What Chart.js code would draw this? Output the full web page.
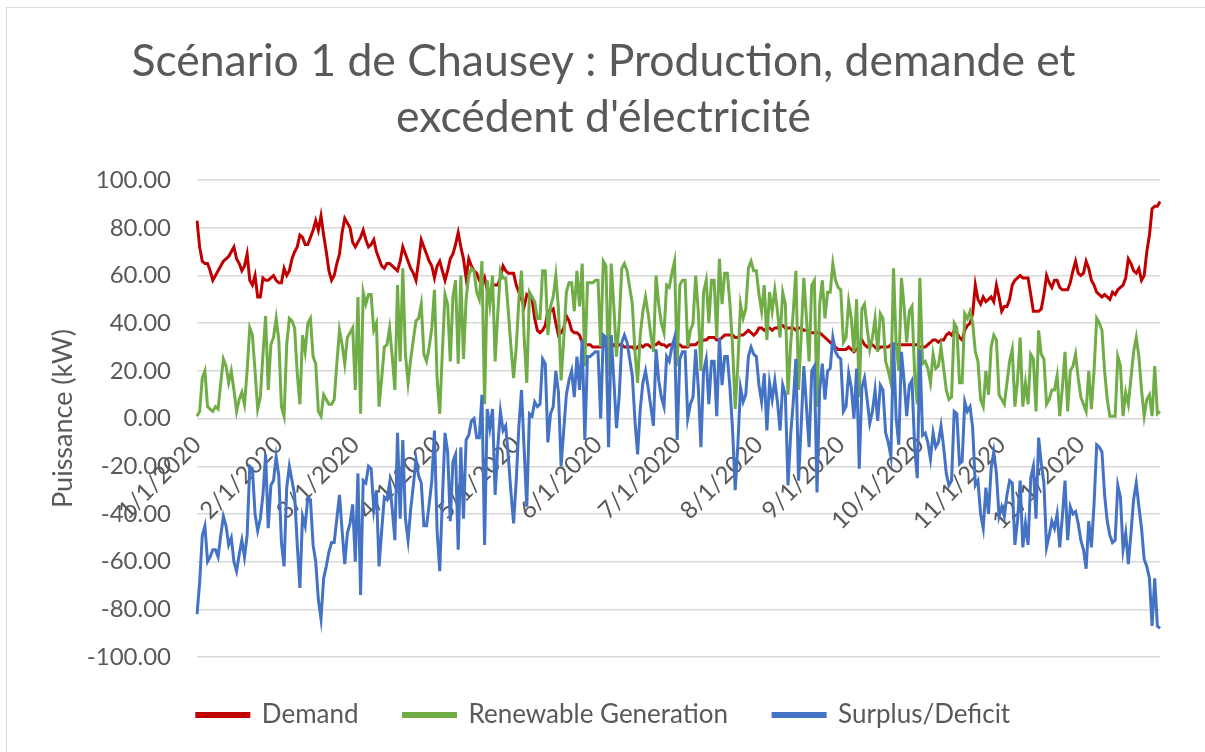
<!DOCTYPE html>
<html>
<head>
<meta charset="utf-8">
<title>Scénario 1 de Chausey</title>
<script src="https://cdn.jsdelivr.net/npm/chart.js@4.4.1/dist/chart.umd.min.js"></script>
<style>
  html, body { margin: 0; padding: 0; background: #fff; }
  #wrap { position: relative; width: 1205px; height: 752px; overflow: hidden; }
  #frame { position: absolute; left: 6px; top: 7px; width: 1300px; height: 900px; border: 1px solid #d9d9d9; box-sizing: border-box; pointer-events: none; }
  canvas { position: absolute; left: 0; top: 0; }
</style>
</head>
<body>
<div id="wrap">
  <canvas id="chart" width="1205" height="752"></canvas>
  <div id="frame"></div>
</div>
<script>
// Données journalières 2020 (kW)
const monthTicks = ['1/1/2020', '2/1/2020', '3/1/2020', '4/1/2020', '5/1/2020', '6/1/2020',
  '7/1/2020', '8/1/2020', '9/1/2020', '10/1/2020', '11/1/2020', '12/1/2020'];

const demand = [
  // jan
  83,72,66,65,65,62,58,60,62,64, 66,67,68,70,72,67,65,62,64,69, 58,56,60,51,51,59,58,58,59,60, 58,
  // fév
  57,57,63,60,62,67,70,72,77,76, 73,73,76,79,83,79,85,77,70,62, 58,60,65,69,78,84,82,80,74,
  // mar
  72,74,76,79,75,72,73,75,70,67, 64,63,65,65,64,63,62,66,72,69, 66,63,61,58,66,75,72,69,66,64, 59,
  // avr
  64,66,62,58,62,67,69,73,78,72, 67,59,67,64,62,61,58,56,59,54, 52,56,56,56,59,64,62,61,61,61,
  // mai
  56,53,50,47,52,51,50,42,37,36, 37,39,45,45,46,40,35,36,38,43, 41,37,36,36,35,32,31,31,31,30, 30,
  // juin
  30,30,31,30,30,30,31,30,31,31, 30,30,30,30,29,30,31,30,31,31, 30,31,31,32,31,31,30,31,31,32,
  // juil
  31,31,30,30,30,31,31,31,32,32, 33,33,34,34,34,33,33,34,35,35, 35,35,34,34,35,35,36,37,36,35, 36,
  // août
  38,38,37,38,38,37,38,38,39,39, 38,38,38,38,37,38,38,37,37,36, 36,36,36,36,35,34,33,32,31,30, 29,
  // sep
  29,29,29,30,29,28,29,30,33,31, 30,31,31,30,29,30,30,30,30,31, 31,31,31,31,31,31,31,31,31,31,
  // oct
  30,30,30,31,32,33,33,32,33,33, 35,36,35,37,36,34,33,37,39,40, 44,56,50,48,51,49,50,51,49,56, 51,
  // nov
  45,47,47,50,56,58,59,60,59,59, 59,52,45,45,45,46,52,60,57,55, 58,58,55,54,54,54,57,62,66,61,
  // déc
  60,61,66,63,58,56,53,52,51,52, 51,50,53,52,54,55,56,59,67,65, 62,61,63,58,60,70,77,88,89,89, 91
];

const generation = [
  1,3,17,20,5,4,3,5,4,15, 25,22,15,20,12,3,8,11,6,20, 38,35,20,4,9,27,43,12,31,34, 42,
  33,5,1,31,42,41,38,19,6,35, 28,40,42,26,23,3,1,10,8,6, 6,8,23,37,31,23,34,36,38,
  12,51,2,53,48,52,52,37,40,5, 17,30,31,38,26,12,56,24,63,27, 15,25,33,41,42,48,27,24,30,38, 54,
  17,2,28,52,48,24,51,58,23,60, 25,50,60,63,62,53,50,66,6,58, 48,60,24,44,62,59,59,45,30,17,
  30,50,62,34,15,53,51,49,42,42, 62,62,35,47,51,60,46,16,33,53, 57,57,45,62,47,65,22,57,57,57, 58,
  58,30,66,64,18,65,47,26,40,63, 65,62,55,48,28,15,35,45,51,44, 35,28,60,48,40,36,56,55,61,66,
  22,56,58,58,30,37,40,60,45,20, 53,58,40,58,58,34,67,48,61,61, 48,30,4,23,48,42,46,63,66,62, 62,
  52,45,56,33,53,45,54,45,34,53, 48,10,31,45,62,12,35,59,42,24, 56,58,5,48,58,42,53,53,65,58, 55,
  54,32,34,49,42,28,50,9,46,48, 38,29,34,42,28,44,42,24,20,15, 63,31,20,59,47,32,45,47,19,6,
  59,23,24,21,15,27,21,22,30,21, 12,8,9,40,38,15,15,44,42,45, 40,28,24,8,5,20,10,30,35,33, 10,
  8,6,15,24,29,5,16,34,5,15, 6,27,25,3,37,27,25,6,8,12, 12,18,1,13,28,3,20,22,27,17,
  9,6,3,20,4,20,42,40,37,20, 8,1,1,1,26,22,1,11,6,17, 28,34,26,12,1,8,10,1,22,2, 3
];

const surplus = [
  -82,-69,-49,-45,-60,-58,-55,-55,-58,-49, -41,-45,-53,-50,-60,-64,-57,-51,-58,-49, -20,-21,-40,-47,-42,-32,-15,-46,-28,-26, -16,
  -24,-52,-62,-29,-20,-26,-32,-53,-71,-41, -45,-33,-34,-53,-60,-76,-84,-67,-62,-56, -52,-52,-42,-32,-47,-61,-48,-44,-36,
  -60,-23,-74,-26,-27,-20,-21,-38,-30,-62, -47,-33,-34,-27,-38,-51,-6,-42,-9,-42, -51,-38,-28,-17,-24,-27,-45,-45,-36,-26, -5,
  -47,-64,-34,-6,-14,-43,-18,-15,-55,-12, -42,-9,-7,-1,0,-8,-8,10,-53,4, -4,4,-32,-12,3,-5,-3,-16,-31,-44,
  -26,-3,12,-13,-37,2,1,7,5,6, 25,23,-10,2,5,20,11,-20,-5,10, 16,20,9,26,12,33,-9,26,26,27, 28,
  28,0,35,34,-12,35,16,-4,9,32, 35,32,25,18,-1,-15,4,15,20,13, 5,-3,29,16,9,5,26,24,30,34,
  -9,25,28,28,0,6,9,29,13,-12, 20,25,6,24,24,1,34,14,26,26, 13,-5,-30,-11,13,7,10,26,30,27, 26,
  14,7,19,-5,15,8,16,7,-5,14, 10,-28,-7,7,25,-26,-3,22,5,-12, 20,22,-31,12,23,8,20,21,34,28, 26,
  25,3,5,19,13,0,21,-21,13,17, 8,-2,3,12,-1,14,12,-6,-10,-16, 32,0,-11,28,16,1,14,16,-12,-25,
  29,-7,-6,-10,-17,-6,-12,-10,-3,-12, -23,-28,-26,3,2,-19,-18,7,3,5, -4,-28,-26,-40,-46,-29,-40,-21,-14,-23, -41,
  -37,-41,-32,-26,-27,-53,-43,-26,-54,-44, -53,-25,-20,-42,-8,-19,-27,-54,-49,-43, -46,-40,-54,-41,-26,-51,-37,-40,-39,-44,
  -51,-55,-63,-43,-54,-36,-11,-12,-14,-32, -43,-49,-52,-51,-28,-33,-55,-48,-61,-48, -34,-27,-37,-46,-59,-62,-67,-87,-67,-87, -88
];

// une catégorie par jour de 2020, au format m/j/aaaa
const days = [];
for (let d = new Date(2020, 0, 1); d.getFullYear() === 2020; d.setDate(d.getDate() + 1)) {
  days.push(`${d.getMonth() + 1}/${d.getDate()}/${d.getFullYear()}`);
}

const textColor = '#595959';
const gridColor = '#d9d9d9';
const fontFamily = 'Lato, "Open Sans", sans-serif';

Chart.defaults.font.family = fontFamily;
Chart.defaults.color = textColor;

const ctx = document.getElementById('chart').getContext('2d');

new Chart(ctx, {
  type: 'line',
  data: {
    labels: days,
    datasets: [
      {
        label: 'Demand',
        data: demand,
        borderColor: '#c00000',
        backgroundColor: '#c00000',
        order: 3,
      },
      {
        label: 'Renewable Generation',
        data: generation,
        borderColor: '#70ad47',
        backgroundColor: '#70ad47',
        order: 2,
      },
      {
        label: 'Surplus/Deficit',
        data: surplus,
        borderColor: '#4472c4',
        backgroundColor: '#4472c4',
        order: 1,
      },
    ].map(ds => ({
      ...ds,
      borderWidth: 3,
      pointRadius: 0,
      tension: 0,
      fill: false,
    })),
  },
  options: {
    responsive: false,
    animation: false,
    layout: {
      padding: { left: 47, right: 45, top: 24, bottom: 14 },
    },
    plugins: {
      title: {
        display: true,
        text: ['Scénario 1 de Chausey : Production, demande et', 'excédent d\'électricité'],
        color: textColor,
        font: { size: 44.5, weight: 'normal', lineHeight: 1.26 },
        padding: { top: 10, bottom: 34 },
      },
      legend: {
        position: 'bottom',
        labels: {
          boxWidth: 52,
          boxHeight: 3,
          padding: 45,
          color: textColor,
          font: { size: 26 },
          sort: (a, b) => a.datasetIndex - b.datasetIndex,
        },
      },
      tooltip: { enabled: false },
    },
    scales: {
      x: {
        type: 'category',
        position: { y: 0 },
        grid: { display: false },
        border: { display: false },
        ticks: {
          autoSkip: false,
          minRotation: 45,
          maxRotation: 45,
          padding: 4,
          color: textColor,
          font: { size: 24 },
          callback: function(value, index) {
            const label = this.getLabelForValue(value);
            return monthTicks.includes(label) ? label : '';
          },
        },
      },
      y: {
        min: -100,
        max: 100,
        grid: { color: gridColor, lineWidth: 1.5, drawTicks: false },
        border: { display: false },
        ticks: {
          stepSize: 20,
          padding: 26,
          color: textColor,
          font: { size: 24 },
          callback: (v) => v.toFixed(2),
        },
        title: {
          display: true,
          text: 'Puissance (kW)',
          color: textColor,
          font: { size: 27 },
          padding: { top: 0, bottom: 8 },
        },
        afterFit: (scale) => { scale.width = 150; },
      },
    },
  },
});
</script>
</body>
</html>
